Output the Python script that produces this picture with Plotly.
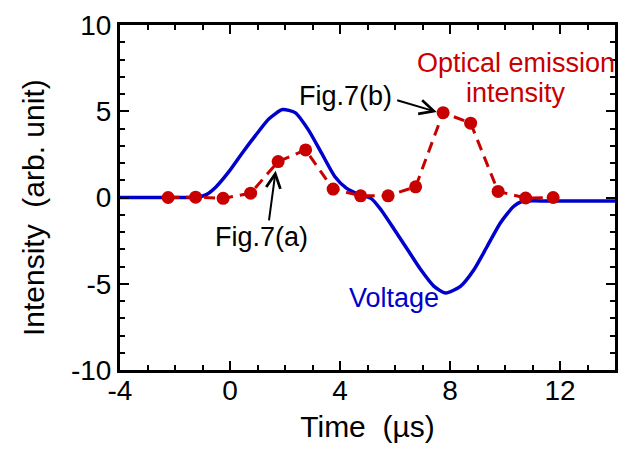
import plotly.graph_objects as go

# Optical emission intensity (red dashed with markers)
oe_time = [-2.25, -1.25, -0.25, 0.75, 1.75, 2.75, 3.75, 4.75, 5.75, 6.75, 7.75, 8.75, 9.75, 10.75, 11.75]
oe_int = [0.0, 0.02, -0.05, 0.25, 2.08, 2.76, 0.49, 0.1, 0.1, 0.62, 4.92, 4.31, 0.35, -0.03, 0.0]

# Voltage (blue solid)
v_time = [-4.0, -2.5, -1.5, -1.15, -0.88, -0.52, -0.04, 0.44, 0.93, 1.41, 1.91, 2.37, 2.85, 3.33, 3.81, 4.23,
          4.65, 5.13, 5.49, 5.98, 6.46, 6.94, 7.42, 7.84, 8.38, 8.87, 9.35, 9.83, 10.31, 10.61, 11.5, 12.5, 14.0]
v_val = [0.0, 0.0, 0.0, 0.03, 0.15, 0.6, 1.5, 2.57, 3.6, 4.55, 5.1, 4.92, 3.92, 2.57, 1.22, 0.54,
         0.2, -0.05, -0.71, -1.87, -3.03, -4.19, -5.15, -5.54, -5.15, -4.19, -2.84, -1.48, -0.52, -0.23, -0.2, -0.2, -0.2]

x_ticks = [-4, 0, 4, 8, 12]
y_ticks = [-10, -5, 0, 5, 10]

RED = "#c80000"
BLUE = "#0000cc"
FONT = "Liberation Sans, Arial, sans-serif"

fig = go.Figure()
fig.add_trace(go.Scatter(x=v_time, y=v_val, mode="lines", line=dict(color=BLUE, width=3.5, shape="spline", smoothing=0.6),
                         showlegend=False, hoverinfo="skip"))
fig.add_trace(go.Scatter(x=oe_time, y=oe_int, mode="lines+markers",
                         line=dict(color=RED, width=3, dash="11px,7px"),
                         marker=dict(color=RED, size=13), showlegend=False))

ann_font = dict(family=FONT, size=27, color="black")
fig.add_annotation(x=4.20, y=5.86, text="Fig.7(b)", showarrow=False, font=ann_font, xanchor="center", yanchor="middle")
fig.add_annotation(x=1.16, y=-2.28, text="Fig.7(a)", showarrow=False, font=ann_font, xanchor="center", yanchor="middle")
fig.add_annotation(x=5.97, y=-5.81, text="Voltage", showarrow=False, font=dict(family=FONT, size=27, color=BLUE))
fig.add_annotation(x=10.4, y=7.8, text="Optical emission", showarrow=False, font=dict(family=FONT, size=27, color=RED))
fig.add_annotation(x=10.4, y=6.05, text="intensity", showarrow=False, font=dict(family=FONT, size=27, color=RED))

# arrows
fig.add_annotation(x=7.52, y=4.96, ax=6.025, ay=5.66, axref="x", ayref="y", text="", showarrow=True,
                   arrowhead=5, arrowsize=1.4, arrowwidth=2, arrowcolor="black")
fig.add_annotation(x=1.66, y=1.55, ax=1.41, ay=-1.41, axref="x", ayref="y", text="", showarrow=True,
                   arrowhead=5, arrowsize=1.4, arrowwidth=2, arrowcolor="black")

# y-axis title as rotated annotation for precise placement
fig.add_annotation(xref="paper", yref="paper", x=-0.176, y=0.472, text="Intensity  (arb. unit)", textangle=-90,
                   showarrow=False, xanchor="center", yanchor="middle",
                   font=dict(family=FONT, size=30, color="black"))

axis_common = dict(showgrid=False, zeroline=False, showline=True, linecolor="black", linewidth=3,
                   mirror="allticks", ticks="inside", ticklen=9, tickwidth=2, tickcolor="black",
                   tickfont=dict(family=FONT, size=28, color="black"))

fig.update_xaxes(range=[-4, 14], tickvals=x_ticks, ticktext=[str(v) for v in x_ticks],
                 minor=dict(dtick=1, tick0=0, ticks="inside", ticklen=5, tickwidth=2, tickcolor="black"),
                 title=dict(text="Time  (µs)", font=dict(family=FONT, size=30, color="black"), standoff=12),
                 ticklabelstandoff=-7,
                 **axis_common)
fig.update_yaxes(range=[-10, 10], tickvals=y_ticks, ticktext=[str(v) for v in y_ticks],
                 minor=dict(dtick=1, tick0=0, ticks="inside", ticklen=5, tickwidth=2, tickcolor="black"),
                 ticklabelstandoff=0,
                 **axis_common)

fig.update_layout(width=626, height=459, margin=dict(l=120, r=8, t=25, b=89),
                  plot_bgcolor="white", paper_bgcolor="white", showlegend=False)

fig.write_html("out.html")
